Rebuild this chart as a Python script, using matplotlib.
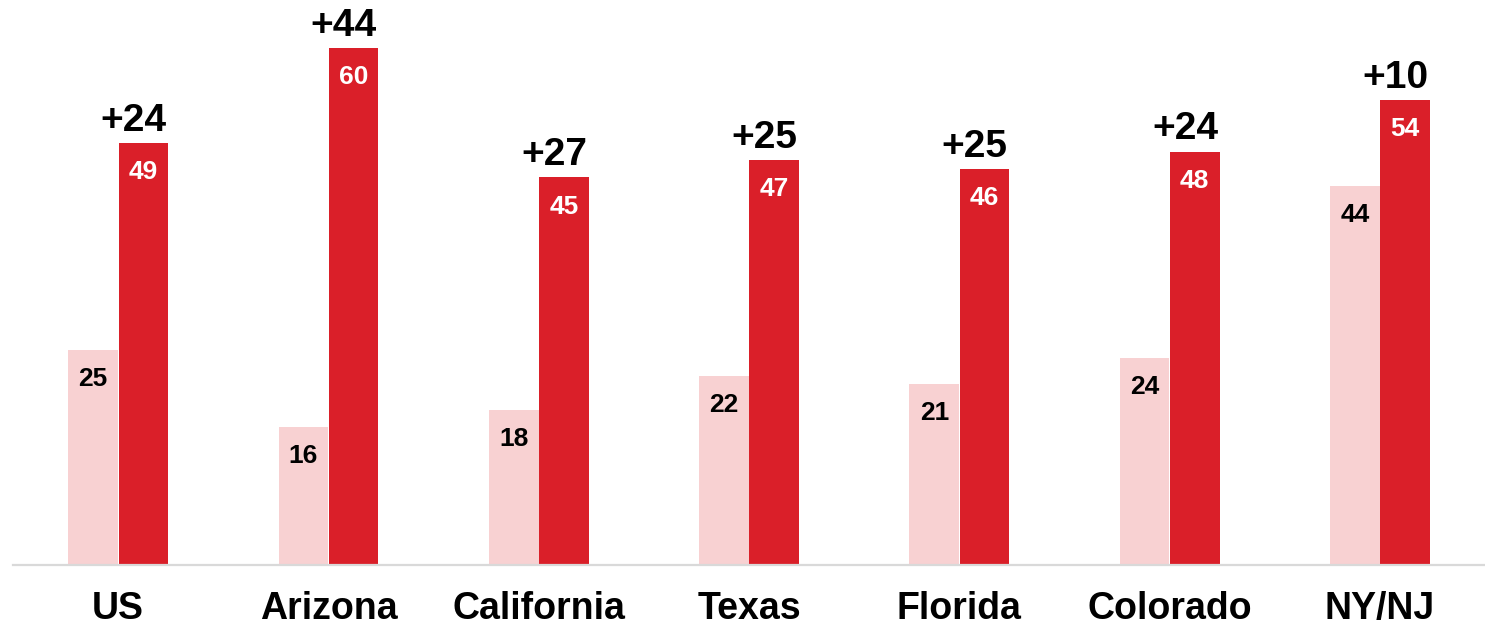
import matplotlib
matplotlib.use("Agg")
import matplotlib.pyplot as plt
import numpy as np

categories = ["US", "Arizona", "California", "Texas", "Florida", "Colorado", "NY/NJ"]
before = [25, 16, 18, 22, 21, 24, 44]
after = [49, 60, 45, 47, 46, 48, 54]
change_labels = ["+24", "+44", "+27", "+25", "+25", "+24", "+10"]

light = "#F8D1D2"
dark = "#DA1F29"

plt.rcParams['font.family'] = ['Liberation Sans', 'DejaVu Sans']

fig = plt.figure(figsize=(14.85, 6.25), dpi=100)
ax = fig.add_axes([13/1485, 60/625, 1 - 13/1485, 565/625])

x = np.arange(len(categories))
w = 0.236
b1 = ax.bar(x - w/2 - 0.001, before, width=w, color=light, edgecolor="none")
b2 = ax.bar(x + w/2 + 0.002, after, width=w, color=dark, edgecolor="none")

for rect, v in zip(b1, before):
    ax.annotate(str(v), (rect.get_x() + rect.get_width()/2, rect.get_height()),
                xytext=(0, -21), textcoords="offset points", ha="center", va="center",
                fontsize=19, fontweight="bold", color="black")
for rect, v in zip(b2, after):
    ax.annotate(str(v), (rect.get_x() + rect.get_width()/2, rect.get_height()),
                xytext=(0, -21), textcoords="offset points", ha="center", va="center",
                fontsize=19, fontweight="bold", color="white")
for rect, lab in zip(b2, change_labels):
    ax.annotate(lab, (rect.get_x() + rect.get_width()/2, rect.get_height()),
                xytext=(-7, 3), textcoords="offset points", ha="center", va="bottom",
                fontsize=28, fontweight="bold", color="black")

ax.set_xlim(-0.5, len(categories) - 0.5)
ax.set_ylim(0, 65.6)
ax.set_xticks(x)
ax.set_xticklabels(categories, fontsize=27, fontweight="bold")
ax.tick_params(axis="x", length=0, pad=18.5)
ax.set_yticks([])
for s in ["top", "right", "left"]:
    ax.spines[s].set_visible(False)
ax.spines["bottom"].set_color("#D9D9D9")
ax.spines["bottom"].set_linewidth(1.6)

fig.savefig("out.png", dpi=100)
